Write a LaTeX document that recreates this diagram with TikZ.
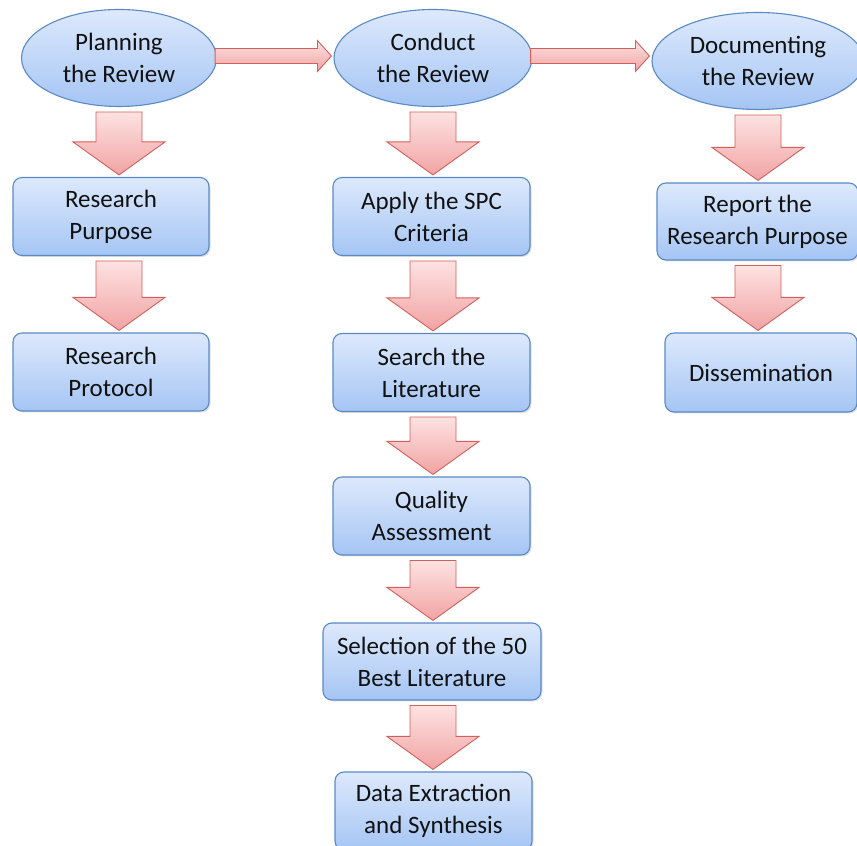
\documentclass[tikz,border=0pt]{standalone}
\usepackage{fontspec}
\setmainfont{Carlito}
\usetikzlibrary{shapes.geometric,shadows,calc}
\definecolor{bluetop}{HTML}{DDE9FC}
\definecolor{bluebot}{HTML}{A5C5F4}
\definecolor{blueline}{HTML}{5A8AC6}
\definecolor{pinktop}{HTML}{FDE2E2}
\definecolor{pinkbot}{HTML}{F2A3A3}
\definecolor{redline}{HTML}{D0605C}
\definecolor{txt}{HTML}{111111}
\tikzset{
  base/.style={draw=blueline, line width=1.1pt, top color=bluetop, bottom color=bluebot,
    align=center, text=txt, font=\fontsize{25}{32}\selectfont, inner sep=2pt},
  phase/.style={base, ellipse, minimum height=97pt},
  stepbox/.style={base, rounded corners=9pt, minimum height=78pt,
    drop shadow={opacity=0.25, shadow xshift=1.5pt, shadow yshift=-1.5pt}},
  blockarrow/.style={draw=redline, line width=0.9pt, top color=pinktop, bottom color=pinkbot, line join=miter},
}
\newcommand\blockdown[3]{%
  \path[blockarrow] let \p1=(#1.south), \p2=(#2.north), \p3=(#3.center) in
    (\x3-23pt,\y1-5pt) -- (\x3+23pt,\y1-5pt) -- (\x3+23pt,\y2+35pt) -- (\x3+46pt,\y2+35pt)
    -- (\x3,\y2+2pt) -- (\x3-46pt,\y2+35pt) -- (\x3-23pt,\y2+35pt) -- cycle;}
\newcommand\blockright[2]{%
  \path[blockarrow] let \p1=(#1.east), \p2=(#2.west) in
    (\x1-2pt,\y1+9.5pt) -- (\x2-16pt,\y1+9.5pt) -- (\x2-16pt,\y1+17.5pt) -- (\x2-2pt,\y1+2pt)
    -- (\x2-16pt,\y1-13.5pt) -- (\x2-16pt,\y1-5.5pt) -- (\x1-2pt,\y1-5.5pt) -- cycle;}
\begin{document}
\begin{tikzpicture}[x=1pt,y=1pt]
\useasboundingbox (0,0) rectangle (857,846);
% phases
\node[phase, minimum width=195pt] (plan) at (119,788) {Planning\\the Review};
\node[phase, minimum width=198pt] (cond) at (433,788) {Conduct\\the Review};
\node[phase, minimum width=212pt] (docu) at (758,785) {Documenting\\the Review};
% column 1
\node[stepbox, minimum width=196pt] (purp) at (111,629.5) {Research\\Purpose};
\node[stepbox, minimum width=196pt] (prot) at (111,474) {Research\\Protocol};
% column 2
\node[stepbox, minimum width=197pt] (spc) at (431.5,629.5) {Apply the SPC\\Criteria};
\node[stepbox, minimum width=197pt] (lit) at (431.5,473.5) {Search the\\Literature};
\node[stepbox, minimum width=197pt] (qual) at (431.5,330) {Quality\\Assessment};
\node[stepbox, minimum width=218pt, minimum height=77pt] (sel) at (432,184.5) {Selection of the 50\\Best Literature};
\node[stepbox, minimum width=197pt] (data) at (433.5,35) {Data Extraction\\and Synthesis};
% column 3
\node[stepbox, minimum width=201pt, minimum height=77pt] (rep) at (757.5,624.5) {Report the\\Research Purpose};
\node[stepbox, minimum width=192pt, minimum height=79pt] (diss) at (761,473.5) {Dissemination};
% arrows
\blockright{plan}{cond}
\blockright{cond}{docu}
\blockdown{plan}{purp}{plan}
\blockdown{purp}{prot}{plan}
\blockdown{cond}{spc}{cond}
\blockdown{spc}{lit}{cond}
\blockdown{lit}{qual}{cond}
\blockdown{qual}{sel}{cond}
\blockdown{sel}{data}{cond}
\blockdown{docu}{rep}{docu}
\blockdown{rep}{diss}{docu}
\end{tikzpicture}
\end{document}
